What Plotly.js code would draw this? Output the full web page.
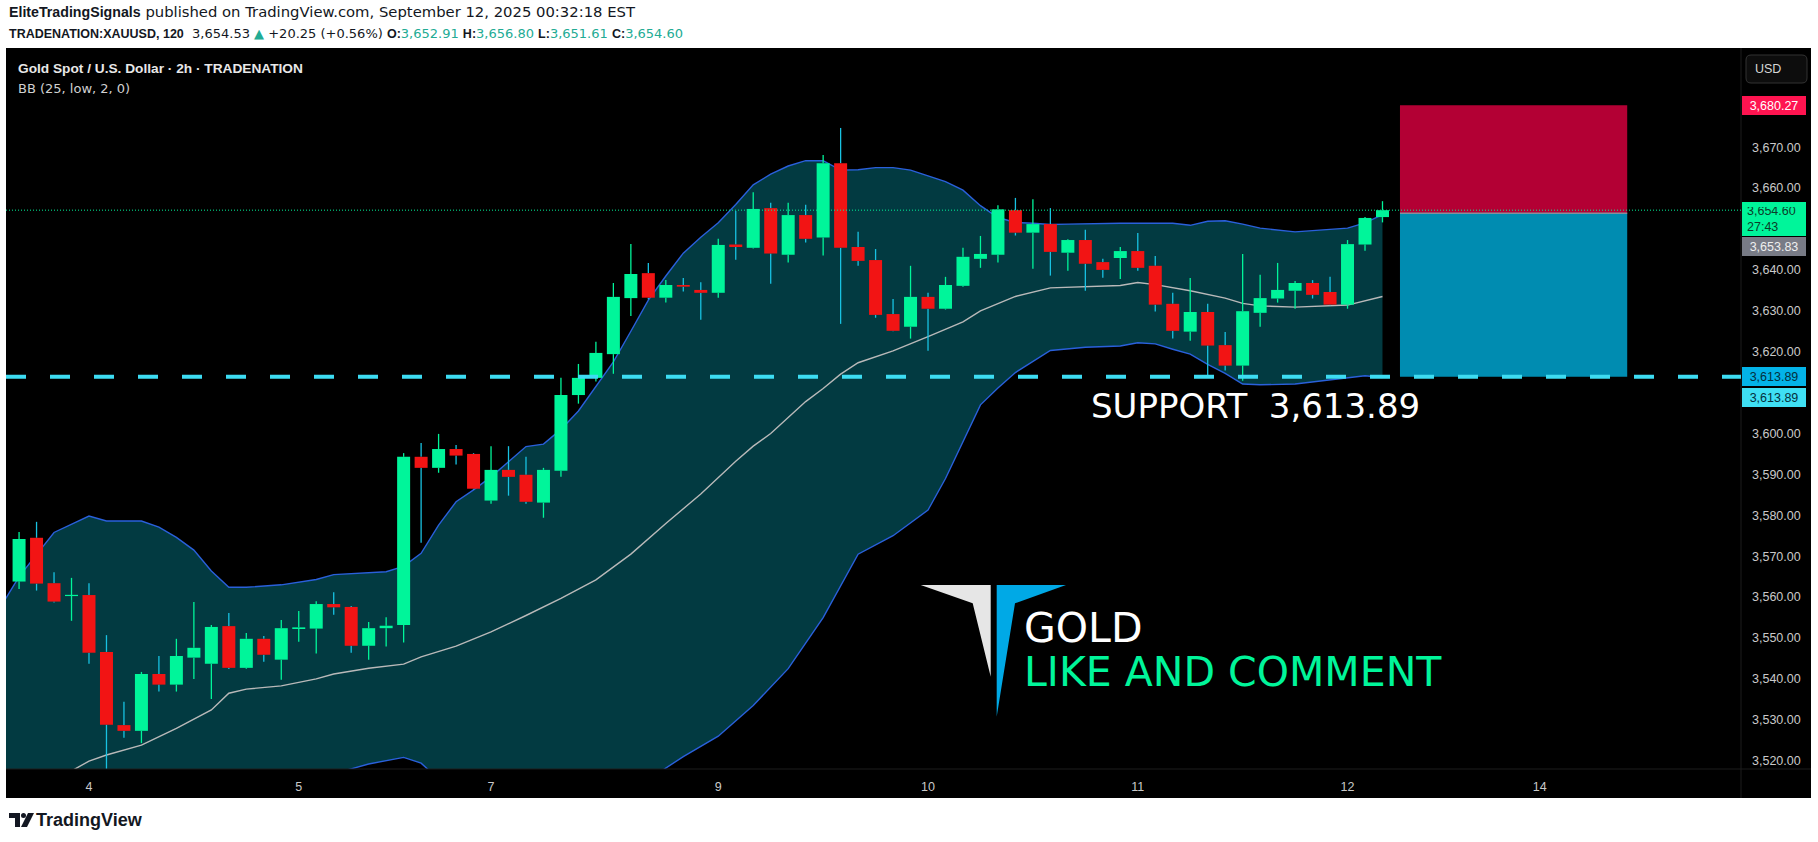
<!DOCTYPE html>
<html>
<head>
<meta charset="utf-8">
<script src="https://cdn.plot.ly/plotly-3.0.1.min.js"></script>
<style>
html,body{margin:0;padding:0;background:#ffffff;}
#chart{width:1818px;height:842px;}
</style>
</head>
<body>
<div id="chart"></div>
<script>
// ---------- DATA (2h candles, bar index 0..78) ----------
const opens = [3563.8, 3574.5, 3563.4, 3560.3, 3560.5, 3546.6, 3528.7, 3527.3, 3541.2, 3538.6,
 3545.2, 3543.7, 3552.9, 3542.7, 3549.8, 3544.7, 3552.2, 3552.3, 3558.3, 3557.6,
 3548.1, 3552.4, 3553.2, 3594.3, 3591.6, 3596.2, 3595.0, 3583.6, 3591.1, 3589.9,
 3583.1, 3590.9, 3609.4, 3613.6, 3619.4, 3633.1, 3639.2, 3633.2, 3636.3, 3635.1,
 3634.4, 3646.2, 3645.4, 3655.1, 3643.7, 3653.4, 3647.9, 3666.1, 3645.6, 3642.4,
 3629.2, 3626.1, 3633.4, 3630.5, 3636.1, 3642.7, 3643.7, 3654.6, 3649.1, 3651.2,
 3644.2, 3647.3, 3641.9, 3642.9, 3644.6, 3641.0, 3631.7, 3624.9, 3629.7, 3621.6,
 3616.6, 3629.5, 3633.0, 3634.9, 3636.8, 3634.6, 3631.5, 3646.2, 3652.91];
const highs = [3575.9, 3578.4, 3566.1, 3564.7, 3563.4, 3550.7, 3534.4, 3541.7, 3545.6, 3549.8,
 3558.8, 3553.2, 3556.1, 3551.2, 3550.5, 3554.4, 3556.6, 3559.0, 3561.2, 3557.8,
 3553.9, 3555.1, 3595.2, 3597.7, 3599.9, 3597.2, 3595.2, 3596.9, 3596.9, 3594.3,
 3591.6, 3613.6, 3617.0, 3622.4, 3636.8, 3646.3, 3641.7, 3637.5, 3638.0, 3637.0,
 3647.6, 3654.4, 3659.0, 3656.4, 3656.4, 3655.9, 3668.1, 3674.7, 3649.3, 3645.1,
 3632.9, 3641.0, 3634.4, 3638.3, 3645.4, 3648.3, 3655.8, 3657.6, 3657.3, 3655.1,
 3647.5, 3649.8, 3642.7, 3645.6, 3649.0, 3643.4, 3634.4, 3638.0, 3631.7, 3624.8,
 3643.9, 3638.8, 3641.7, 3637.3, 3637.5, 3638.3, 3647.3, 3652.9, 3656.80];
const lows = [3562.0, 3561.6, 3558.7, 3554.2, 3543.7, 3516.5, 3525.6, 3524.3, 3536.9, 3536.9,
 3540.0, 3535.1, 3542.4, 3542.5, 3544.2, 3539.8, 3549.1, 3546.2, 3555.7, 3546.4,
 3544.7, 3547.9, 3548.9, 3573.3, 3590.4, 3592.4, 3586.3, 3582.8, 3584.8, 3582.8,
 3579.4, 3589.4, 3607.3, 3612.7, 3614.6, 3628.7, 3632.8, 3632.0, 3634.7, 3627.8,
 3633.2, 3642.5, 3645.2, 3636.6, 3641.8, 3646.7, 3643.5, 3626.8, 3641.0, 3628.3,
 3625.0, 3623.2, 3620.2, 3630.3, 3635.9, 3640.5, 3641.8, 3648.4, 3640.3, 3638.6,
 3639.8, 3634.9, 3638.1, 3637.8, 3639.8, 3629.8, 3623.2, 3622.7, 3613.9, 3615.4,
 3612.9, 3626.1, 3632.0, 3630.5, 3633.0, 3631.3, 3630.5, 3644.7, 3651.61];
const closes = [3574.2, 3563.3, 3558.9, 3560.5, 3546.4, 3528.8, 3527.3, 3541.2, 3538.6, 3545.6,
 3547.6, 3552.7, 3542.7, 3549.8, 3545.9, 3552.4, 3552.6, 3558.3, 3557.5, 3548.1,
 3552.4, 3553.0, 3594.3, 3591.6, 3596.2, 3594.6, 3586.5, 3591.1, 3589.4, 3583.3,
 3591.1, 3609.4, 3613.6, 3619.7, 3633.4, 3639.0, 3633.2, 3636.3, 3635.9, 3634.4,
 3646.1, 3645.6, 3654.9, 3644.0, 3653.4, 3647.6, 3666.1, 3645.4, 3642.2, 3629.0,
 3625.1, 3633.4, 3630.5, 3636.3, 3643.2, 3643.9, 3654.8, 3649.1, 3651.2, 3644.4,
 3647.3, 3641.5, 3640.0, 3644.6, 3640.5, 3631.5, 3625.1, 3629.7, 3621.5, 3616.6,
 3629.9, 3633.1, 3635.1, 3636.8, 3633.9, 3631.5, 3646.3, 3652.7, 3654.60];

// Bollinger Bands (25, low, 2)
const bbUpperX = [-1, 0, 2, 4, 5, 7, 8, 9, 10, 11, 12, 13, 15, 17, 18, 20, 21, 22, 23, 24, 25, 26, 27, 28, 29, 30, 31, 32, 33, 34, 35, 36, 37, 38, 39, 40, 41, 42, 43, 44, 45, 46, 47, 48, 49, 50, 51, 52, 53, 54, 55, 56, 57, 58, 59, 60, 62, 63, 66, 67, 68, 69, 70, 71, 73, 76, 77, 78];
const bbUpper = [3558, 3565, 3575.8, 3579.8, 3578.6, 3578.6, 3577.1, 3574.6, 3571.5, 3566.4, 3562.4, 3562.4, 3563.0, 3564.3, 3565.5, 3565.9, 3566.2, 3567.5, 3570.7, 3577.6, 3583.3, 3586.2, 3589.4, 3593.1, 3596.8, 3597.4, 3601.0, 3605.5, 3611.5, 3617.5, 3625.0, 3632.6, 3638.5, 3644.1, 3648.0, 3651.5, 3656.0, 3660.8, 3663.4, 3665.4, 3666.7, 3666.7, 3664.4, 3664.5, 3665.0, 3665.0, 3664.4, 3663.0, 3661.6, 3659.5, 3655.7, 3652.8, 3651.6, 3651.4, 3651.1, 3651.2, 3651.4, 3651.4, 3651.4, 3650.9, 3651.9, 3652.0, 3651.2, 3650.2, 3649.3, 3650.2, 3651.5, 3653.5];
const bbMidX = [-1, 1, 3, 4, 5, 7, 9, 11, 12, 13, 15, 17, 18, 20, 22, 23, 25, 27, 29, 31, 33, 35, 37, 39, 41, 42, 43, 45, 46, 47, 48, 50, 52, 54, 55, 57, 59, 61, 63, 64, 65, 67, 69, 70, 71, 73, 76, 78];
const bbMid = [3511, 3514, 3517.5, 3519.9, 3521.4, 3523.8, 3527.9, 3532.4, 3536.5, 3537.5, 3538.3, 3540.0, 3541.2, 3542.6, 3543.6, 3545.4, 3548.0, 3551.5, 3555.5, 3559.7, 3564.2, 3570.5, 3578.0, 3585.2, 3593.2, 3596.9, 3600.0, 3607.8, 3611.0, 3614.5, 3617.3, 3620.2, 3623.7, 3627.3, 3630.0, 3633.5, 3635.6, 3635.9, 3636.2, 3636.9, 3636.4, 3634.9, 3633.1, 3631.8, 3631.2, 3630.9, 3631.4, 3633.5];
const bbLowerX = [-1, 4, 9, 12, 15, 17, 18, 19, 20, 22, 23, 24, 27, 30, 33, 36, 37, 38, 40, 42, 44, 46, 48, 50, 52, 53, 55, 56, 57, 59, 61, 63, 64, 65, 66, 67, 68, 69, 70, 71, 73, 75, 76, 77, 78];
const bbLower = [3464, 3460, 3481, 3510.6, 3513.6, 3515.7, 3516.9, 3518.0, 3519.2, 3520.8, 3519.4, 3515.5, 3513.6, 3514.5, 3516.5, 3515.4, 3518.3, 3521.0, 3526.0, 3533.5, 3542.5, 3555.0, 3570.5, 3575.0, 3581.3, 3589.0, 3607.0, 3611.1, 3614.9, 3620.3, 3621.1, 3621.4, 3622.2, 3621.9, 3620.6, 3619.4, 3616.9, 3614.7, 3612.1, 3611.9, 3612.1, 3613.1, 3613.6, 3614.1, 3613.7];

// axis ticks
const dayTickBars = [4, 16, 27, 40, 52, 64, 76, 87];
const dayTickLabels = ["4", "5", "7", "9", "10", "11", "12", "14"];
const priceTicks = [3520, 3530, 3540, 3550, 3560, 3570, 3580, 3590, 3600, 3620, 3630, 3640, 3660, 3670];

// levels
const lastPrice = 3654.60;
const entryPrice = 3653.83;
const stopPrice = 3680.27;
const targetPrice = 3613.89;
const supportPrice = 3613.89;
const positionStartBar = 79;
const positionEndBar = 92;

// ---------- STYLE ----------
const GREEN = '#00f59a', RED = '#f21414', RED_WICK = '#18c2e2';
const BAND = '#2a60db', MIDLINE = '#b9b9b9', BANDFILL = '#023a41';
const AXISFONT = {family: 'Liberation Sans, Arial, sans-serif', size: 12.5, color: '#c9c9c9'};
const PLOT_L = 6, PLOT_T = 48, PLOT_R = 1741, PLOT_B = 769;
const PW = PLOT_R - PLOT_L, PH = PLOT_B - PLOT_T;

// ---------- BUILD CANDLE SEGMENTS ----------
function segs(pred, loFn, hiFn, minH) {
  const xs = [], ys = [];
  for (let i = 0; i < opens.length; i++) {
    if (!pred(i)) continue;
    let a = loFn(i), b = hiFn(i);
    if (minH) { if (b - a < minH) { const m = (a + b) / 2; a = m - minH / 2; b = m + minH / 2; } }
    else if (b - a <= 0) continue;
    xs.push(i, i, null); ys.push(a, b, null);
  }
  return {xs, ys};
}
const isUp = i => closes[i] >= opens[i];
const isDn = i => closes[i] < opens[i];
const bodyLo = i => Math.min(opens[i], closes[i]);
const bodyHi = i => Math.max(opens[i], closes[i]);

const upWickHi = segs(isUp, bodyHi, i => highs[i]);
const upWickLo = segs(isUp, i => lows[i], bodyLo);
const dnWickHi = segs(isDn, bodyHi, i => highs[i]);
const dnWickLo = segs(isDn, i => lows[i], bodyLo);
const upBody = segs(isUp, bodyLo, bodyHi, 0.3);
const dnBody = segs(isDn, bodyLo, bodyHi, 0.3);

function lineTrace(s, color, width) {
  return {type: 'scatter', mode: 'lines', x: s.xs, y: s.ys, connectgaps: false,
    line: {color: color, width: width, simplify: false}, hoverinfo: 'skip'};
}

const traces = [
  {type: 'scatter', mode: 'lines', x: bbUpperX, y: bbUpper, line: {width: 0, color: 'rgba(0,0,0,0)'}, hoverinfo: 'skip'},
  {type: 'scatter', mode: 'lines', x: bbLowerX, y: bbLower, fill: 'tonexty', fillcolor: BANDFILL, line: {width: 0, color: 'rgba(0,0,0,0)'}, hoverinfo: 'skip'},
  {type: 'scatter', mode: 'lines', x: bbUpperX, y: bbUpper, line: {width: 1.4, color: BAND}, hoverinfo: 'skip'},
  {type: 'scatter', mode: 'lines', x: bbLowerX, y: bbLower, line: {width: 1.4, color: BAND}, hoverinfo: 'skip'},
  {type: 'scatter', mode: 'lines', x: bbMidX, y: bbMid, line: {width: 1.4, color: MIDLINE}, hoverinfo: 'skip'},
  lineTrace(upWickHi, GREEN, 1.3), lineTrace(upWickLo, GREEN, 1.3),
  lineTrace(dnWickHi, RED_WICK, 1.3), lineTrace(dnWickLo, RED_WICK, 1.3),
  lineTrace(upBody, GREEN, 13), lineTrace(dnBody, RED, 13)
];

// ---------- helpers for pixel-placed decorations ----------
function pxPath(pts) {
  return pts.map((p, k) => (k ? 'L' : 'M') + (p[0] - PLOT_L) + ',' + (PLOT_T - p[1])).join(' ') + ' Z';
}
function pxShape(path, color) {
  return {type: 'path', xref: 'paper', yref: 'paper', xsizemode: 'pixel', ysizemode: 'pixel',
    xanchor: 0, yanchor: 1, path: path, fillcolor: color, line: {width: 0}, layer: 'above'};
}
function pxText(text, x, y, font, xanchor, yanchor, extra) {
  return Object.assign({xref: 'paper', yref: 'paper', x: 0, y: 1, xshift: x - PLOT_L, yshift: PLOT_T - y,
    xanchor: xanchor || 'left', yanchor: yanchor || 'middle', showarrow: false, text: text, font: font, borderpad: 0}, extra || {});
}
function priceBox(text, price, bg, fg, yshift, h) {
  return {xref: 'paper', x: 1, xshift: 1, xanchor: 'left', yref: 'y', y: price, yanchor: 'middle', yshift: yshift || 0,
    width: 64, height: h || 19, bgcolor: bg, borderpad: 0, borderwidth: 0, showarrow: false, text: text,
    font: {family: AXISFONT.family, size: 12.5, color: fg}, align: 'center'};
}

const boxRight = (1811 - PLOT_L) / PW;
const boxBottom = -(798 - PLOT_B) / PH;

const shapes = [
  {type: 'rect', xref: 'paper', yref: 'paper', x0: 0, x1: boxRight, y0: boxBottom, y1: 1, fillcolor: '#000000', line: {width: 0}, layer: 'below'},
  {type: 'line', xref: 'paper', yref: 'paper', x0: 1, x1: 1, y0: boxBottom, y1: 1, line: {color: '#1c1c1c', width: 1}, layer: 'above'},
  {type: 'line', xref: 'paper', yref: 'paper', x0: 0, x1: boxRight, y0: 0, y1: 0, line: {color: '#1c1c1c', width: 1}, layer: 'above'},
  {type: 'rect', xref: 'x', yref: 'y', x0: positionStartBar, x1: positionEndBar, y0: entryPrice, y1: stopPrice, fillcolor: '#b30034', line: {width: 0}, layer: 'above'},
  {type: 'rect', xref: 'x', yref: 'y', x0: positionStartBar, x1: positionEndBar, y0: targetPrice, y1: entryPrice, fillcolor: '#008cb1', line: {width: 0}, layer: 'above'},
  {type: 'line', xref: 'x', yref: 'y', x0: positionStartBar, x1: positionEndBar, y0: entryPrice, y1: entryPrice, line: {color: '#8a8d99', width: 1.5}, layer: 'above'},
  {type: 'line', xref: 'paper', yref: 'y', x0: 0, x1: 1, y0: supportPrice, y1: supportPrice, line: {color: '#3ddcf2', width: 4, dash: '20px,24px'}, layer: 'above'},
  {type: 'line', xref: 'paper', yref: 'y', x0: 0, x1: 1, y0: lastPrice, y1: lastPrice, line: {color: GREEN, width: 1, dash: '1px,2px'}, layer: 'above'},
  pxShape(pxPath([[920.7, 585], [990.7, 585], [990.7, 676.7], [972.7, 603.3]]), '#e6e6e6'),
  pxShape(pxPath([[996.7, 585], [1066, 585], [1015, 603.3], [996.7, 716.7]]), '#00a9e6'),
  pxShape(pxPath([[9, 813], [20, 813], [20, 827], [15, 827], [15, 818], [9, 818]]), '#131722'),
  pxShape(pxPath([[28, 813], [34, 813], [27, 827], [21, 827]]), '#131722'),
  {type: 'circle', xref: 'paper', yref: 'paper', xsizemode: 'pixel', ysizemode: 'pixel', xanchor: 0, yanchor: 1,
    x0: 21 - PLOT_L, x1: 26 - PLOT_L, y0: PLOT_T - 813, y1: PLOT_T - 818, fillcolor: '#131722', line: {width: 0}},
  {type: 'path', xref: 'paper', yref: 'paper', xsizemode: 'pixel', ysizemode: 'pixel', xanchor: 0, yanchor: 1,
    path: (function(){ const x0=1746-PLOT_L, x1=1807-PLOT_L, y0=PLOT_T-55, y1=PLOT_T-83, r=5;
      return `M${x0+r},${y0} L${x1-r},${y0} Q${x1},${y0} ${x1},${y0-r} L${x1},${y1+r} Q${x1},${y1} ${x1-r},${y1} L${x0+r},${y1} Q${x0},${y1} ${x0},${y1+r} L${x0},${y0-r} Q${x0},${y0} ${x0+r},${y0} Z`; })(),
    fillcolor: '#0d0d0d', line: {color: '#333333', width: 1}, layer: 'above'}
];

const HF = 'Liberation Sans, Arial, sans-serif';
const DV = 'DejaVu Sans, sans-serif';
const TEAL = '#22ab94';
const tv = s => `<span style="color:${TEAL}">${s}</span>`;
const bold = (s, sz) => `<span style="font-family:Liberation Sans;font-size:${sz || 12.5}px;font-weight:bold">${s}</span>`;
const annotations = [
  pxText(`${bold('EliteTradingSignals', 14.2)} published on TradingView.com, September 12, 2025 00:32:18 EST`, 8, 11,
    {family: DV, size: 14.8, color: '#131722'}),
  pxText(`${bold('TRADENATION:XAUUSD, 120')}  3,654.53 ${tv('▲')} +20.25 (+0.56%) ${bold('O:')}${tv('3,652.91')} ${bold('H:')}${tv('3,656.80')} ${bold('L:')}${tv('3,651.61')} ${bold('C:')}${tv('3,654.60')}`, 8, 33,
    {family: DV, size: 13, color: '#131722'}),
  pxText('<b>Gold Spot / U.S. Dollar · 2h · TRADENATION</b>', 17, 68, {family: HF, size: 13.7, color: '#e8e8e8'}),
  pxText('BB (25, low, 2, 0)', 17, 88, {family: DV, size: 13, color: '#d0d0d0'}),
  pxText('USD', 1768, 69, {family: HF, size: 12.5, color: '#d6d6d6'}, 'center'),
  priceBox('3,680.27', stopPrice, '#ff1450', '#ffffff'),
  Object.assign(priceBox('3,654.60<br>27:43', lastPrice, GREEN, '#0b3d29', 8), {yanchor: 'top', height: 24, width: 54, borderpad: 5, align: 'left'}),
  priceBox('3,653.83', entryPrice, '#787b86', '#eeeeee', -33),
  priceBox('3,613.89', supportPrice, '#03b3e8', '#04303d'),
  priceBox('3,613.89', targetPrice, '#3fe0f4', '#04303d', -21),
  pxText('SUPPORT  3,613.89', 1090, 406, {family: DV, size: 34, color: '#ffffff'}),
  pxText('GOLD', 1023, 628, {family: DV, size: 41, color: '#ffffff'}),
  pxText('LIKE AND COMMENT', 1023, 672, {family: DV, size: 41, color: '#00f59a'}),
  pxText('<b>TradingView</b>', 35, 820, {family: HF, size: 18, color: '#131722'})
];

const layout = {
  width: 1818, height: 842,
  margin: {l: PLOT_L, r: 1818 - PLOT_R, t: PLOT_T, b: 842 - PLOT_B, pad: 0},
  paper_bgcolor: '#ffffff', plot_bgcolor: '#000000', showlegend: false,
  xaxis: {type: 'linear', range: [-0.748, 98.51], tickvals: dayTickBars, ticktext: dayTickLabels,
    showgrid: false, zeroline: false, showline: false, ticks: '', tickfont: AXISFONT, ticklabelstandoff: 8, fixedrange: true},
  yaxis: {type: 'linear', side: 'right', range: [3517.97, 3694.25], tickvals: priceTicks, tickformat: ',.2f',
    showgrid: false, zeroline: false, showline: false, ticks: '', tickfont: AXISFONT, ticklabelstandoff: 10, fixedrange: true},
  shapes: shapes,
  annotations: annotations
};

Plotly.newPlot('chart', traces, layout, {staticPlot: true, displayModeBar: false});
</script>
</body>
</html>
